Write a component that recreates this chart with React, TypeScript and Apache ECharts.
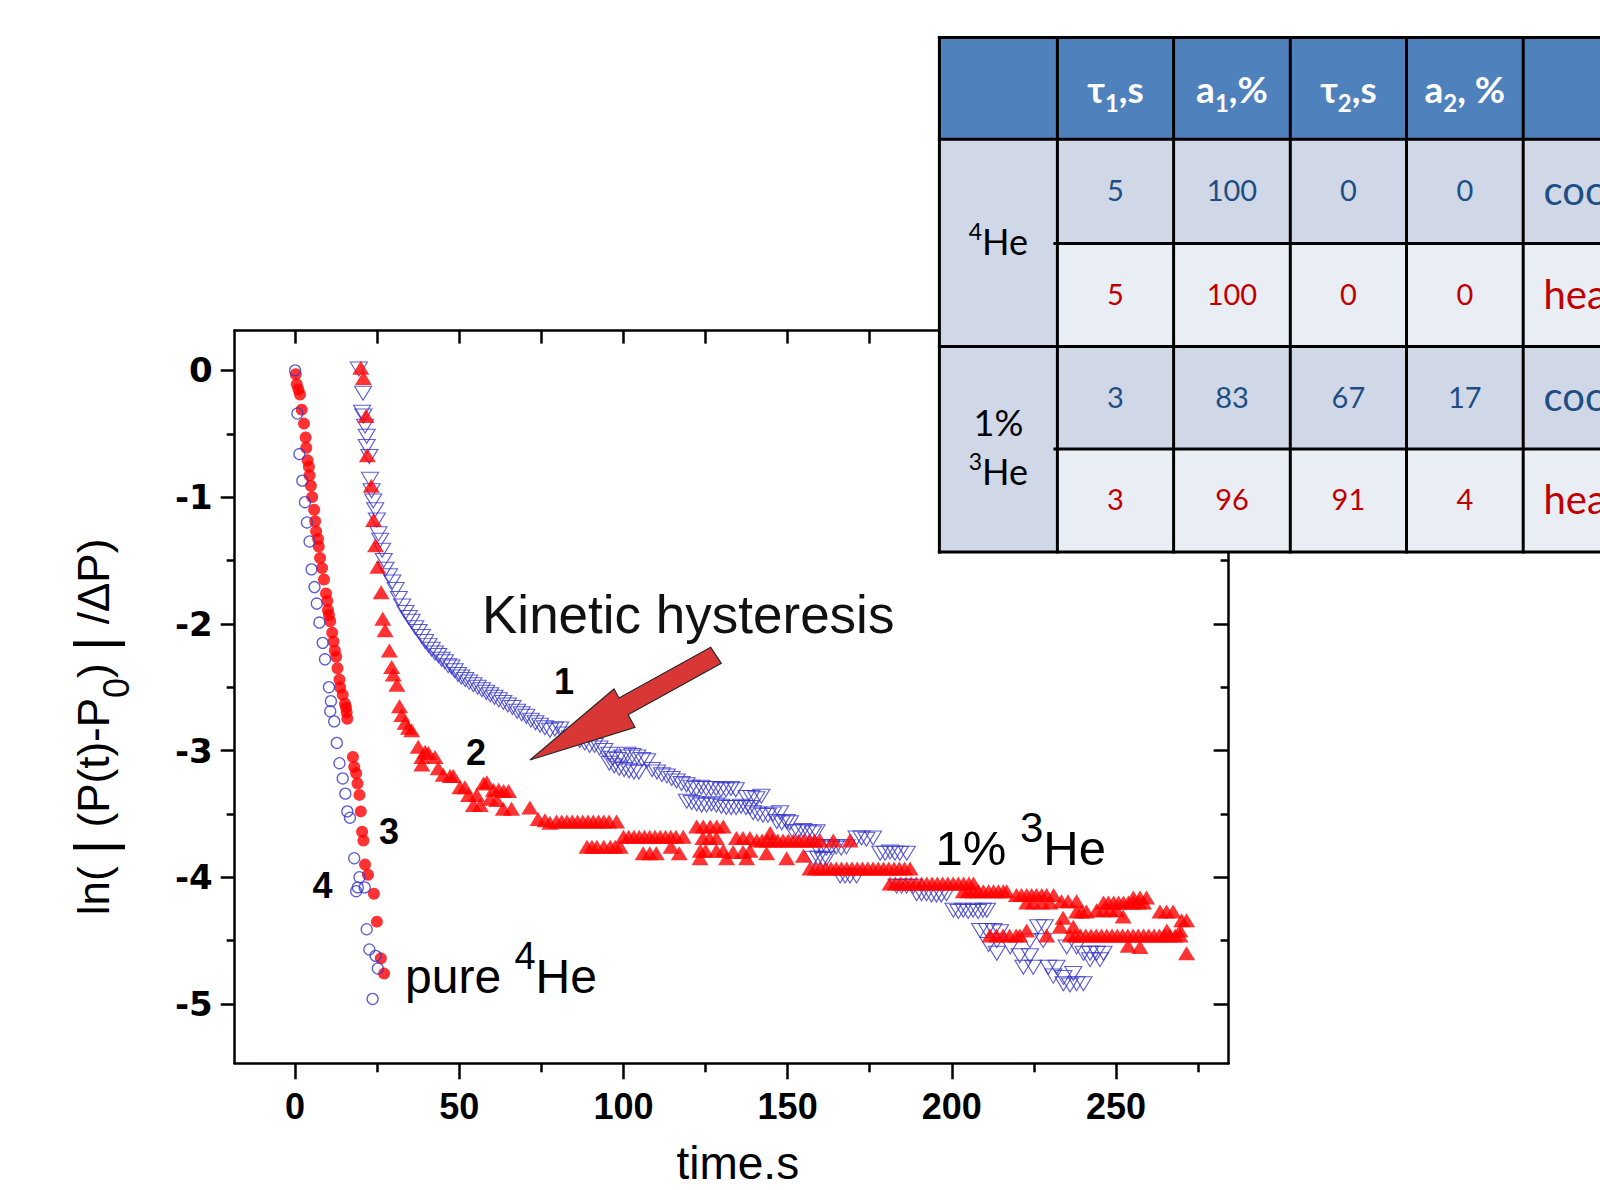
import React, { useEffect, useRef } from "react";
import * as echarts from "echarts";

// ---------- axes ----------
const xMin = -18.4;
const xMax = 284.3;
const yMin = -5.468;
const yMax = 0.314;
const xMajorTicks = [0, 50, 100, 150, 200, 250];
const xMinorTicks = [25, 75, 125, 175, 225, 275];
const xTopTicks = [0, 25, 50, 75, 100, 125, 150, 175, 200, 225, 250, 275];
const yMajorTicks = [0, -1, -2, -3, -4, -5];
const yMinorTicks = [-0.5, -1.5, -2.5, -3.5, -4.5];

// ---------- data (time s, ln|..|) ----------
// curve 4: pure 4He, cooling (blue open circles)
const pure4HeCooling: [number, number][] = [
  [0.0, 0.0], [0.7, -0.34], [1.3, -0.66], [2.2, -0.87], [3.0, -1.04], [3.6, -1.2], [4.4, -1.35],
  [5.0, -1.57], [5.9, -1.71], [6.6, -1.84], [7.4, -1.99], [8.4, -2.15], [9.1, -2.28], [10.3, -2.5],
  [10.9, -2.61], [10.7, -2.69], [11.9, -2.77], [12.7, -2.94], [13.5, -3.1], [14.5, -3.22], [15.3, -3.34],
  [15.9, -3.48], [16.7, -3.53], [18.0, -3.85], [19.6, -4.0], [19.1, -4.08], [18.6, -4.11], [21.2, -4.08],
  [21.8, -4.41], [22.6, -4.57], [24.5, -4.62], [25.2, -4.72], [23.6, -4.96],
];

// curve 3: pure 4He, heating (red filled circles)
const pure4HeHeating: [number, number][] = [
  [0.2, -0.03], [0.5, -0.11], [1.0, -0.15], [1.5, -0.19], [2.0, -0.31], [2.7, -0.42], [3.2, -0.53],
  [3.4, -0.61], [3.8, -0.71], [4.2, -0.76], [4.4, -0.83], [4.8, -0.91], [5.2, -1.0], [5.8, -1.1],
  [6.1, -1.19], [6.4, -1.27], [7.0, -1.33], [7.2, -1.39], [7.6, -1.48], [8.2, -1.56], [8.8, -1.65],
  [9.4, -1.76], [9.8, -1.82], [10.0, -1.89], [10.3, -1.93], [10.7, -1.98], [11.3, -2.07], [11.7, -2.14],
  [12.1, -2.21], [12.5, -2.26], [12.9, -2.35], [13.5, -2.44], [13.7, -2.5], [14.5, -2.56], [15.2, -2.63],
  [15.5, -2.66], [15.7, -2.7], [15.9, -2.75], [17.6, -3.05], [18.0, -3.13], [18.6, -3.18], [19.0, -3.26],
  [19.6, -3.35], [20.0, -3.48], [20.4, -3.64], [20.8, -3.71], [21.3, -3.9], [22.2, -3.98], [24.0, -4.13],
  [24.9, -4.35], [26.1, -4.64], [27.1, -4.76],
];

// curve 1: 1% 3He, cooling (blue open down-triangles)
const he3Cooling: [number, number][] = [
  [19.4, 0.01], [20.7, -0.18], [20.4, -0.33], [20.8, -0.36], [21.3, -0.44], [21.8, -0.52], [21.8, -0.6],
  [22.6, -0.68], [22.8, -0.86], [23.3, -0.95], [23.8, -1.03], [24.4, -1.1], [24.9, -1.18], [25.4, -1.29],
  [25.9, -1.34], [26.5, -1.42], [27.0, -1.5], [27.5, -1.57], [28.6, -1.62], [29.6, -1.67], [30.6, -1.73],
  [31.6, -1.8], [32.6, -1.86], [33.6, -1.91], [34.6, -1.95], [35.5, -1.98], [36.6, -2.03], [37.6, -2.06],
  [38.6, -2.1], [39.6, -2.14], [40.6, -2.17], [41.6, -2.2], [42.6, -2.23], [43.6, -2.25], [44.6, -2.28],
  [45.6, -2.3], [46.6, -2.33], [47.6, -2.34], [48.6, -2.37], [49.6, -2.4], [50.6, -2.42], [51.8, -2.44],
  [53.0, -2.46], [54.3, -2.48], [55.6, -2.5], [56.9, -2.52], [58.2, -2.54], [59.4, -2.56], [60.7, -2.58],
  [62.0, -2.6], [63.4, -2.62], [64.8, -2.64], [66.2, -2.66], [67.6, -2.69], [69.0, -2.71], [70.4, -2.73],
  [71.8, -2.76], [73.2, -2.78], [74.6, -2.8], [76.1, -2.82], [77.6, -2.84], [79.1, -2.83], [80.7, -2.83],
  [82.2, -2.87], [83.7, -2.9], [85.2, -2.9], [86.7, -2.92], [88.2, -2.94], [89.7, -2.96], [91.2, -2.96],
  [92.7, -2.98], [94.2, -3.0], [95.7, -3.03], [96.7, -3.06], [98.2, -3.07], [99.7, -3.05], [101.2, -3.03],
  [102.7, -3.04], [104.2, -3.05], [105.7, -3.07], [107.2, -3.08],
  [95.7, -3.1], [97.2, -3.12], [98.7, -3.14], [100.2, -3.15], [101.7, -3.16], [103.2, -3.17], [104.7, -3.17],
  [108.7, -3.15], [110.2, -3.17], [111.7, -3.19], [113.2, -3.2], [114.7, -3.22], [116.2, -3.24], [117.7, -3.26],
  [119.2, -3.27], [120.7, -3.29], [122.2, -3.3],
  [123.7, -3.29], [125.2, -3.3], [126.7, -3.3], [128.2, -3.3], [129.7, -3.31], [131.2, -3.31], [132.7, -3.3],
  [134.2, -3.31],
  [119.3, -3.4], [120.8, -3.41], [122.3, -3.42], [123.8, -3.43], [125.3, -3.43], [126.8, -3.42], [128.3, -3.43],
  [129.8, -3.44], [131.3, -3.45], [132.8, -3.45], [134.3, -3.45], [135.8, -3.44], [137.3, -3.45], [138.5, -3.45],
  [137.5, -3.37], [139.0, -3.37], [140.5, -3.38], [142.0, -3.36],
  [139.5, -3.49], [141.0, -3.5], [142.5, -3.51], [144.0, -3.51], [145.6, -3.5], [147.7, -3.49],
  [146.7, -3.56], [148.2, -3.57], [149.7, -3.56], [150.7, -3.57],
  [151.7, -3.64], [153.2, -3.64], [154.7, -3.63], [156.2, -3.64], [157.7, -3.65], [158.8, -3.64],
  [157.8, -3.85], [159.3, -3.85], [160.8, -3.86], [161.9, -3.85],
  [158.8, -3.76], [160.3, -3.76], [161.8, -3.77], [163.3, -3.76], [164.8, -3.76], [166.3, -3.77], [167.9, -3.76],
  [166.0, -3.99], [167.5, -3.99], [169.0, -3.99], [171.0, -3.99],
  [171.0, -3.69], [172.5, -3.69], [174.0, -3.7], [176.0, -3.69],
  [178.2, -3.81], [179.7, -3.81], [181.2, -3.8], [182.7, -3.81], [184.2, -3.81], [186.3, -3.81],
  [183.2, -4.07], [184.7, -4.07], [186.2, -4.07], [188.3, -4.07],
  [189.3, -4.13], [190.8, -4.13], [192.3, -4.13], [193.8, -4.14], [195.3, -4.14], [196.8, -4.14], [198.4, -4.13],
  [200.5, -4.26], [202.0, -4.27], [203.5, -4.26], [205.0, -4.27], [206.5, -4.26], [208.0, -4.27], [209.5, -4.26],
  [210.7, -4.26],
  [208.6, -4.42], [210.7, -4.42], [212.7, -4.42], [214.7, -4.43],
  [211.2, -4.53], [213.7, -4.5], [213.7, -4.6], [217.8, -4.55], [220.7, -4.62], [223.8, -4.62], [221.8, -4.71],
  [224.8, -4.71], [223.8, -4.5], [227.8, -4.5], [226.3, -4.39], [228.3, -4.39], [229.4, -4.71], [231.9, -4.71],
  [230.9, -4.78], [234.0, -4.79], [237.0, -4.76], [234.0, -4.84], [236.0, -4.85], [238.0, -4.84], [240.1, -4.84],
  [235.0, -4.55], [238.0, -4.55], [240.1, -4.6], [242.1, -4.6], [244.1, -4.6], [246.2, -4.6], [242.1, -4.65],
  [245.1, -4.65],
];

// curve 2: 1% 3He, heating (red filled triangles)
const he3Heating: [number, number][] = [
  [20.0, 0.02], [20.8, -0.06], [21.6, -0.36], [22.0, -0.67], [23.2, -0.91], [23.9, -1.18], [24.5, -1.38],
  [25.2, -1.55], [26.2, -1.75], [26.7, -1.96], [27.4, -2.05], [28.7, -2.21], [29.4, -2.34], [29.9, -2.4],
  [31.0, -2.48], [31.8, -2.65], [32.5, -2.72], [33.5, -2.78], [34.5, -2.82], [35.5, -2.84], [37.5, -2.97],
  [38.6, -3.05], [39.6, -3.01], [40.6, -3.02], [42.6, -3.05], [38.6, -3.11], [43.6, -3.14], [45.1, -3.19],
  [47.2, -3.2], [48.2, -3.2], [50.2, -3.29], [51.7, -3.29], [52.8, -3.35], [55.3, -3.35], [57.4, -3.26],
  [58.4, -3.25], [60.4, -3.31], [62.0, -3.31], [63.5, -3.32], [65.0, -3.32], [54.3, -3.43], [56.4, -3.43],
  [59.4, -3.38], [61.4, -3.39], [63.4, -3.46], [65.9, -3.46], [71.5, -3.45], [74.0, -3.54], [76.1, -3.55],
  [77.6, -3.57],
  [79.6, -3.56], [81.2, -3.56], [82.8, -3.56], [84.4, -3.56], [86.0, -3.56], [87.6, -3.56], [89.2, -3.56],
  [90.8, -3.56], [92.4, -3.56], [94.0, -3.56], [95.6, -3.56], [97.9, -3.56],
  [88.9, -3.76], [90.4, -3.76], [91.9, -3.76], [94.0, -3.76], [96.0, -3.76], [97.5, -3.76], [99.0, -3.76],
  [100.0, -3.68], [101.6, -3.68], [103.2, -3.68], [104.8, -3.68], [106.4, -3.68], [108.0, -3.68], [109.6, -3.68],
  [111.2, -3.68], [112.8, -3.68], [114.4, -3.68], [116.0, -3.68], [118.2, -3.68],
  [106.0, -3.81], [108.0, -3.81], [110.0, -3.81], [114.5, -3.76], [117.0, -3.81],
  [122.3, -3.6], [124.3, -3.6], [126.4, -3.6], [128.4, -3.6], [130.4, -3.6],
  [124.2, -3.69], [126.2, -3.69], [128.3, -3.69], [134.4, -3.69], [136.4, -3.69], [138.5, -3.69],
  [123.4, -3.79], [125.0, -3.79], [128.3, -3.79], [130.4, -3.79], [133.4, -3.8], [136.4, -3.8], [138.5, -3.79],
  [143.6, -3.81],
  [123.3, -3.85], [131.4, -3.85], [137.5, -3.85], [149.7, -3.85], [154.8, -3.83],
  [140.6, -3.71], [142.2, -3.71], [143.8, -3.71], [145.4, -3.71], [147.0, -3.71], [148.6, -3.71], [150.2, -3.71],
  [151.8, -3.71], [153.4, -3.71], [155.0, -3.71], [156.6, -3.71], [158.2, -3.71], [159.9, -3.71], [163.9, -3.71],
  [169.0, -3.71], [144.7, -3.65],
  [156.8, -3.93], [158.4, -3.93], [160.0, -3.93], [161.6, -3.93], [163.2, -3.93], [164.8, -3.93], [166.4, -3.93],
  [168.0, -3.93], [169.6, -3.93], [171.2, -3.93], [172.8, -3.93], [174.4, -3.93], [176.0, -3.93], [177.6, -3.93],
  [179.2, -3.93], [180.8, -3.93], [182.4, -3.93], [184.0, -3.93], [185.6, -3.93], [187.3, -3.93],
  [181.2, -4.05], [182.8, -4.05], [184.4, -4.05], [186.0, -4.05], [187.6, -4.05], [189.2, -4.05], [190.8, -4.05],
  [192.4, -4.05], [194.0, -4.05], [195.6, -4.05], [197.2, -4.05], [198.8, -4.05], [200.4, -4.05], [202.0, -4.05],
  [203.6, -4.05], [205.2, -4.05], [206.6, -4.05],
  [203.5, -4.11], [205.0, -4.11], [206.6, -4.11], [208.1, -4.11], [209.6, -4.11], [211.2, -4.11], [212.7, -4.11],
  [214.2, -4.11], [215.7, -4.11], [216.7, -4.11],
  [219.7, -4.14], [221.2, -4.14], [222.8, -4.14], [224.3, -4.14], [225.8, -4.14], [227.4, -4.14], [228.9, -4.14],
  [231.0, -4.14],
  [222.8, -4.2], [224.8, -4.2], [227.4, -4.2], [229.9, -4.2],
  [233.4, -4.19], [235.4, -4.19], [238.0, -4.19],
  [233.9, -4.32], [238.0, -4.27], [239.5, -4.27], [241.0, -4.27],
  [246.2, -4.2], [247.7, -4.2], [249.3, -4.2], [250.8, -4.2], [252.3, -4.2], [253.8, -4.2], [255.3, -4.2],
  [256.9, -4.2], [258.4, -4.2],
  [255.3, -4.16], [257.3, -4.16], [259.3, -4.16],
  [244.1, -4.26], [246.1, -4.26], [248.2, -4.26], [250.2, -4.26], [252.2, -4.31],
  [263.4, -4.27], [265.4, -4.27], [267.4, -4.27], [270.0, -4.34], [271.5, -4.34], [265.5, -4.42], [269.5, -4.42],
  [236.0, -4.46], [237.6, -4.46], [239.2, -4.46], [240.8, -4.46], [242.4, -4.46], [244.0, -4.46], [245.6, -4.46],
  [247.2, -4.46], [248.8, -4.46], [250.4, -4.46], [252.0, -4.46], [253.6, -4.46], [255.2, -4.46], [256.8, -4.46],
  [258.4, -4.46], [260.0, -4.46], [261.6, -4.46], [263.2, -4.46], [264.8, -4.46], [266.4, -4.46], [268.0, -4.46],
  [269.5, -4.46],
  [253.7, -4.54], [257.3, -4.55], [271.5, -4.6],
  [211.6, -4.46], [213.6, -4.46], [215.6, -4.46], [217.6, -4.46], [219.6, -4.46], [220.7, -4.46],
  [222.8, -4.42], [228.9, -4.46], [233.0, -4.39], [237.0, -4.39],
];

// ---------- inset table ----------
const tableHeaders: [string, string, string][] = [
  ["τ", "1", ",s"],
  ["a", "1", ",%"],
  ["τ", "2", ",s"],
  ["a", "2", ", %"],
];
const tableGroups = [
  { pre: "", sup: "4", main: "He" },
  { pre: "1%", sup: "3", main: "He" },
];
const tableValues: number[][] = [
  [5, 100, 0, 0],
  [5, 100, 0, 0],
  [3, 83, 67, 17],
  [3, 96, 91, 4],
];
const tableModes = ["cooling", "heating", "cooling", "heating"];

// ---------- styling ----------
const BLUE = "#3434CC";
const RED = "#FF0000";
const SANS = "Liberation Sans, Arial, sans-serif";
const TABLE_FONT = "Lato, 'Open Sans', sans-serif";

const GRID = { left: 234.7, top: 330.6, width: 993.9, height: 732.7 };

function buildGraphic() {
  const g: any[] = [];
  const colX = [939.4, 1057.4, 1173.6, 1290.3, 1406.5, 1523.2, 1670];
  const rowY = [37.4, 139.2, 243.6, 346.5, 448.9, 552];
  const Z = 30;

  // fills
  g.push({ type: "rect", z: Z, shape: { x: colX[0], y: rowY[0], width: colX[6] - colX[0], height: rowY[1] - rowY[0] }, style: { fill: "#4F81BD" } });
  g.push({ type: "rect", z: Z, shape: { x: colX[0], y: rowY[1], width: colX[1] - colX[0], height: rowY[5] - rowY[1] }, style: { fill: "#D0D8E8" } });
  for (let r = 0; r < 4; r++) {
    g.push({
      type: "rect", z: Z,
      shape: { x: colX[1], y: rowY[r + 1], width: colX[6] - colX[1], height: rowY[r + 2] - rowY[r + 1] },
      style: { fill: r % 2 === 0 ? "#D0D8E8" : "#E9EDF4" },
    });
  }
  // borders
  const lineStyle = { stroke: "#000", lineWidth: 3 };
  [rowY[0], rowY[1], rowY[3], rowY[5]].forEach((y) =>
    g.push({ type: "line", z: Z + 1, shape: { x1: colX[0] - 1.5, y1: y, x2: colX[6], y2: y }, style: lineStyle })
  );
  [rowY[2], rowY[4]].forEach((y) =>
    g.push({ type: "line", z: Z + 1, shape: { x1: colX[1] - 4, y1: y, x2: colX[6], y2: y }, style: lineStyle })
  );
  colX.slice(0, 6).forEach((x) =>
    g.push({ type: "line", z: Z + 1, shape: { x1: x, y1: rowY[0] - 1.5, x2: x, y2: rowY[5] + 1.5 }, style: lineStyle })
  );

  // header texts
  tableHeaders.forEach((h, i) => {
    const cx = (colX[i + 1] + colX[i + 2]) / 2;
    g.push({
      type: "text", z: Z + 2, x: cx, y: 88.2,
      style: {
        text: `{m|${h[0]}}{s|${h[1]}}{m|${h[2]}}`,
        align: "center", verticalAlign: "middle",
        rich: {
          m: { fontFamily: TABLE_FONT, fontWeight: "bold", fontSize: 37, fill: "#fff", lineHeight: 52, verticalAlign: "middle" },
          s: { fontFamily: TABLE_FONT, fontWeight: "bold", fontSize: 24, fill: "#fff", lineHeight: 24, verticalAlign: "bottom" },
        },
      },
    });
  });

  // group labels
  const gx = (colX[0] + colX[1]) / 2;
  const groupRich = {
    p: { fontFamily: TABLE_FONT, fontSize: 23, fill: "#000", lineHeight: 23, verticalAlign: "top" },
    m: { fontFamily: TABLE_FONT, fontSize: 36, fill: "#000", lineHeight: 43, verticalAlign: "middle" },
  };
  g.push({
    type: "text", z: Z + 2, x: gx, y: 241,
    style: { text: `{p|${tableGroups[0].sup}}{m|${tableGroups[0].main}}`, align: "center", verticalAlign: "middle", rich: groupRich },
  });
  g.push({
    type: "text", z: Z + 2, x: gx, y: 422,
    style: { text: tableGroups[1].pre, align: "center", verticalAlign: "middle", fontFamily: TABLE_FONT, fontSize: 36, fill: "#000" },
  });
  g.push({
    type: "text", z: Z + 2, x: gx, y: 470.5,
    style: { text: `{p|${tableGroups[1].sup}}{m|${tableGroups[1].main}}`, align: "center", verticalAlign: "middle", rich: groupRich },
  });

  // values and modes
  tableValues.forEach((vals, r) => {
    const cy = (rowY[r + 1] + rowY[r + 2]) / 2 - 1.5;
    const color = tableModes[r] === "cooling" ? "#1F4E85" : "#C00000";
    vals.forEach((v, c) => {
      const cx = (colX[c + 1] + colX[c + 2]) / 2;
      g.push({
        type: "text", z: Z + 2, x: cx, y: cy,
        style: { text: String(v), align: "center", verticalAlign: "middle", fontFamily: TABLE_FONT, fontSize: 29, fill: color },
      });
    });
    g.push({
      type: "text", z: Z + 2, x: 1543.5, y: cy,
      style: { text: tableModes[r], align: "left", verticalAlign: "middle", fontFamily: TABLE_FONT, fontSize: 40, fill: color },
    });
  });

  // ----- plot annotations -----
  g.push({
    type: "polygon", z: 10,
    shape: { points: [[530, 760], [614, 689], [619, 698], [710.7, 647.3], [721.3, 663.3], [628.1, 714.8], [635, 727.3]] },
    style: { fill: "#D93636", stroke: "#2a2a2a", lineWidth: 1.2 },
  });
  g.push({
    type: "text", z: 10, x: 482, y: 614.2,
    style: { text: "Kinetic hysteresis", align: "left", verticalAlign: "middle", fontFamily: SANS, fontSize: 53, fill: "#111" },
  });
  const curveLabels: [string, number, number][] = [
    ["1", 564, 681.7],
    ["2", 476, 752.5],
    ["3", 389, 831.7],
    ["4", 322.5, 885],
  ];
  curveLabels.forEach(([t, x, y]) =>
    g.push({
      type: "text", z: 10, x, y,
      style: { text: t, align: "center", verticalAlign: "middle", fontFamily: SANS, fontWeight: "bold", fontSize: 36, fill: "#000" },
    })
  );
  g.push({
    type: "text", z: 10, x: 405, y: 976.9,
    style: {
      text: "{m|pure }{p|4}{m|He}", align: "left", verticalAlign: "middle",
      rich: {
        m: { fontFamily: SANS, fontSize: 48, fill: "#000", lineHeight: 79, verticalAlign: "middle" },
        p: { fontFamily: SANS, fontSize: 38, fill: "#000", lineHeight: 38, verticalAlign: "top" },
      },
    },
  });
  g.push({
    type: "text", z: 10, x: 935.5, y: 848.3,
    style: {
      text: "{m|1% }{p|3}{m|He}", align: "left", verticalAlign: "middle",
      rich: {
        m: { fontFamily: SANS, fontSize: 49, fill: "#000", lineHeight: 84, verticalAlign: "middle" },
        p: { fontFamily: SANS, fontSize: 42, fill: "#000", lineHeight: 42, verticalAlign: "top" },
      },
    },
  });
  // axis titles
  g.push({
    type: "text", z: 10, x: 737.8, y: 1163,
    style: { text: "time.s", align: "center", verticalAlign: "middle", fontFamily: SANS, fontSize: 46, fill: "#000" },
  });
  g.push({
    type: "text", z: 10, x: 93.1, y: 727, rotation: Math.PI / 2,
    style: {
      text: "{m|ln( }{b||}{m| (P(t)-P}{s|0}{m|) }{b||}{m| /ΔP)}",
      align: "center", verticalAlign: "middle",
      rich: {
        m: { fontFamily: SANS, fontSize: 44, fill: "#000", lineHeight: 82, verticalAlign: "middle" },
        b: { fontFamily: SANS, fontSize: 56, fill: "#000", lineHeight: 82, verticalAlign: "middle" },
        s: { fontFamily: SANS, fontSize: 36, fill: "#000", lineHeight: 36, verticalAlign: "bottom" },
      },
    },
  });
  return g;
}

function buildOption(): any {
  const axLine = { show: true, onZero: false, lineStyle: { color: "#000", width: 2.5 } };
  const noLine = { show: false, onZero: false };
  const tick = (values: number[], length: number, inside: boolean) => ({
    show: true, inside, length, customValues: values, lineStyle: { color: "#000", width: 2.5 },
  });
  const base = { type: "value", splitLine: { show: false }, minorTick: { show: false }, minorSplitLine: { show: false } };
  return {
    animation: false,
    backgroundColor: "#fff",
    grid: { ...GRID, show: false, containLabel: false },
    xAxis: [
      {
        ...base, min: xMin, max: xMax, position: "bottom", axisLine: axLine,
        axisTick: tick(xMajorTicks, 16, false),
        axisLabel: {
          show: true, customValues: xMajorTicks, margin: 25, color: "#000",
          fontSize: 36, fontWeight: "bold", fontFamily: SANS,
        },
      },
      { ...base, min: xMin, max: xMax, position: "bottom", axisLine: noLine, axisTick: tick(xMinorTicks, 9, false), axisLabel: { show: false } },
      { ...base, min: xMin, max: xMax, position: "top", axisLine: axLine, axisTick: tick(xTopTicks, 13, true), axisLabel: { show: false } },
    ],
    yAxis: [
      {
        ...base, min: yMin, max: yMax, position: "left", axisLine: axLine,
        axisTick: tick(yMajorTicks, 14, false),
        axisLabel: {
          show: true, customValues: yMajorTicks, margin: 22, color: "#000",
          fontSize: 34, fontWeight: "bold", fontFamily: "DejaVu Sans, sans-serif",
        },
      },
      { ...base, min: yMin, max: yMax, position: "left", axisLine: noLine, axisTick: tick(yMinorTicks, 8, false), axisLabel: { show: false } },
      { ...base, min: yMin, max: yMax, position: "right", axisLine: axLine, axisTick: tick(yMajorTicks, 15, true), axisLabel: { show: false } },
      { ...base, min: yMin, max: yMax, position: "right", axisLine: noLine, axisTick: tick(yMinorTicks, 8, true), axisLabel: { show: false } },
    ],
    series: [
      {
        type: "scatter", name: "pure 4He heating", xAxisIndex: 0, yAxisIndex: 0, data: pure4HeHeating,
        symbol: "circle", symbolSize: 12, itemStyle: { color: RED }, z: 2, silent: true,
      },
      {
        type: "scatter", name: "pure 4He cooling", xAxisIndex: 0, yAxisIndex: 0, data: pure4HeCooling,
        symbol: "circle", symbolSize: 11, itemStyle: { color: "rgba(255,255,255,0)", borderColor: BLUE, borderWidth: 1.3 }, z: 3, silent: true,
      },
      {
        type: "scatter", name: "1% 3He cooling", xAxisIndex: 0, yAxisIndex: 0, data: he3Cooling,
        symbol: "triangle", symbolRotate: 180, symbolSize: [17, 14],
        itemStyle: { color: "rgba(255,255,255,0)", borderColor: BLUE, borderWidth: 1.1 }, z: 3, silent: true,
      },
      {
        type: "scatter", name: "1% 3He heating", xAxisIndex: 0, yAxisIndex: 0, data: he3Heating,
        symbol: "triangle", symbolSize: [17, 14], itemStyle: { color: RED }, z: 4, silent: true,
      },
    ],
    graphic: { elements: buildGraphic() },
  };
}

export default function App() {
  const ref = useRef<HTMLDivElement>(null);
  useEffect(() => {
    if (!ref.current) return;
    const chart = echarts.init(ref.current, undefined, { renderer: "svg" });
    chart.setOption(buildOption());
    return () => {
      chart.dispose();
    };
  }, []);
  return (
    <div
      ref={ref}
      style={{ position: "fixed", left: 0, top: 0, width: 1600, height: 1190, background: "#fff", overflow: "hidden" }}
    />
  );
}
